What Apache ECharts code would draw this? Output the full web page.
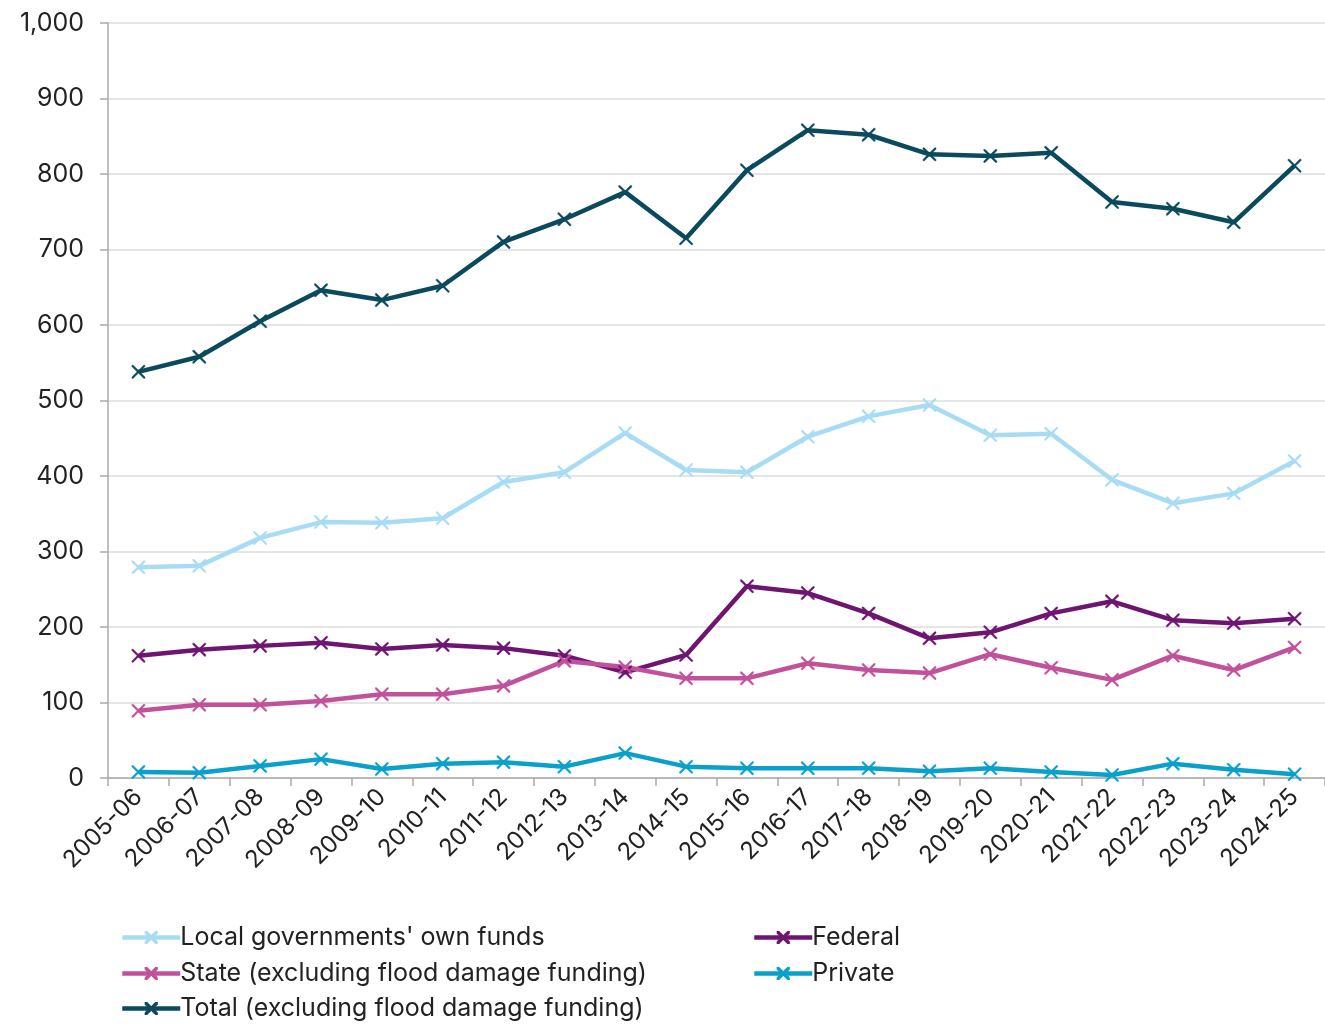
<!DOCTYPE html>
<html>
<head>
<meta charset="utf-8">
<script src="https://cdn.jsdelivr.net/npm/echarts@6/dist/echarts.min.js"></script>
<style>
html,body{margin:0;padding:0;background:#fff;}
#chart{width:1325px;height:1025px;}
</style>
</head>
<body>
<div id="chart"></div>
<script>
const categories = ['2005-06','2006-07','2007-08','2008-09','2009-10','2010-11','2011-12','2012-13','2013-14','2014-15','2015-16','2016-17','2017-18','2018-19','2019-20','2020-21','2021-22','2022-23','2023-24','2024-25'];
const localFunds = [279,281,318,339,338,344,392,405,457,408,405,452,479,494,454,456,395,364,377,420];
const federal = [162,170,175,179,171,176,172,162,140,163,254,245,218,185,193,218,234,209,205,211];
const state = [89,97,97,102,111,111,122,155,147,132,132,152,143,139,164,146,130,162,143,173];
const privateFunds = [8,7,16,25,12,19,21,15,33,15,13,13,13,9,13,8,4,19,11,5];
const total = [538,558,605,646,633,652,710,740,776,715,805,858,852,826,824,828,763,754,736,811];

const names = ["Local governments' own funds", 'Federal', 'State (excluding flood damage funding)', 'Private', 'Total (excluding flood damage funding)'];
const colors = ['#a8dcf5', '#6e1572', '#c2519c', '#0aa0cc', '#0b4a5c'];

const FONT = 'Inter';
const xSym = 'path://M0,0L1,0L5,4L9,0L10,0L10,1L6,5L10,9L10,10L9,10L5,6L1,10L0,10L0,9L4,5L0,1Z';

function mk(name, data, color) {
  return {
    name, type: 'line', data,
    symbol: xSym, symbolSize: 13,
    lineStyle: {color, width: 4.5},
    itemStyle: {color, borderColor: color, borderWidth: 0.5},
    emphasis: {disabled: true},
    animation: false
  };
}

function leg(name, left, top) {
  return {
    left, top, orient: 'horizontal',
    itemWidth: 58, itemHeight: 14, padding: 0,
    data: [name],
    lineStyle: {width: 4.5},
    textStyle: {fontFamily: FONT, fontSize: 25, color: '#222', padding: [0,0,0,-5]}
  };
}

const chart = echarts.init(document.getElementById('chart'), null, {renderer: 'canvas'});
chart.setOption({
  backgroundColor: '#fff',
  textStyle: {fontFamily: FONT},
  grid: {left: 108, top: 23, width: 1220, height: 755, containLabel: false},
  legend: [
    leg(names[0], 120, 925),
    leg(names[1], 752, 925),
    leg(names[2], 120, 961),
    leg(names[3], 752, 961),
    leg(names[4], 120, 996)
  ],
  xAxis: {
    type: 'category', data: categories, boundaryGap: true,
    axisLine: {lineStyle: {color: '#aaa', width: 1.5}},
    axisTick: {show: true, length: 8, lineStyle: {color: '#aaa', width: 1.5}},
    axisLabel: {rotate: 45, fontFamily: FONT, fontSize: 24, color: '#222', margin: 15, interval: 0}
  },
  yAxis: {
    type: 'value', min: 0, max: 1000, interval: 100,
    axisLine: {show: true, lineStyle: {color: '#aaa', width: 1.5}},
    axisTick: {show: true, length: 8, lineStyle: {color: '#aaa', width: 1.5}},
    splitLine: {lineStyle: {color: '#dcdcdc', width: 1.5}},
    axisLabel: {fontFamily: FONT, fontSize: 25, color: '#222', margin: 24,
      formatter: v => v.toLocaleString('en-US')}
  },
  series: names.map((n, i) => mk(n, [localFunds, federal, state, privateFunds, total][i], colors[i]))
});
</script>
</body>
</html>
